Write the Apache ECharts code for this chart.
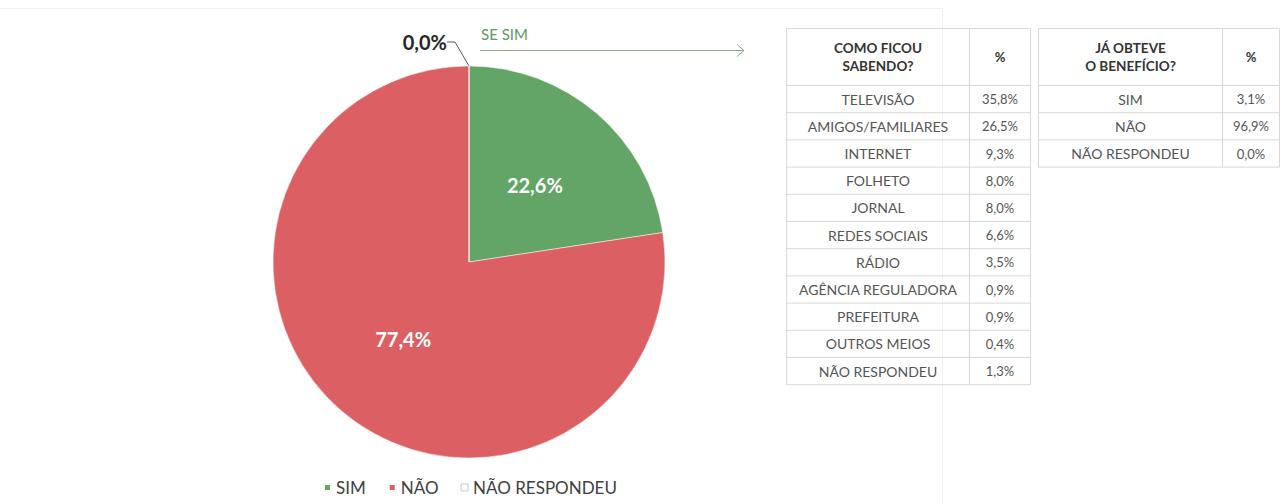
<!DOCTYPE html>
<html>
<head>
<meta charset="utf-8">
<title>Conhecimento do benefício</title>
<script src="https://cdn.jsdelivr.net/npm/echarts@6/dist/echarts.min.js"></script>
<style>
  html, body { margin: 0; padding: 0; background: #ffffff; }
  #chart { width: 1283px; height: 504px; }
</style>
</head>
<body>
<div id="chart"></div>
<script>
// Pie: knows about the benefit?
const answerNames = ['SIM', 'NÃO', 'NÃO RESPONDEU'];
const answerShares = [22.6, 77.4, 0.0];
const answerColors = ['#63a566', '#dc5f63', '#ffffff'];

// Table: how did the respondent find out (only for "SIM")
const sourceLabels = ['TELEVISÃO', 'AMIGOS/FAMILIARES', 'INTERNET', 'FOLHETO', 'JORNAL',
  'REDES SOCIAIS', 'RÁDIO', 'AGÊNCIA REGULADORA', 'PREFEITURA', 'OUTROS MEIOS', 'NÃO RESPONDEU'];
const sourceShares = [35.8, 26.5, 9.3, 8.0, 8.0, 6.6, 3.5, 0.9, 0.9, 0.4, 1.3];

// Table: has the benefit already been obtained
const benefitLabels = ['SIM', 'NÃO', 'NÃO RESPONDEU'];
const benefitShares = [3.1, 96.9, 0.0];

const FONT = 'Lato, "Open Sans", sans-serif';
const HEAD = '#333333';
const BODY = '#555555';
const GRID = '#d9d9d9';

const pct = v => v.toFixed(1).replace('.', ',') + '%';

// Builds a two-column table out of graphic lines and texts
function buildTable(x0, xDiv, x1, top, headerH, rowH, headerLines, labels, values) {
  const els = [];
  const bottom = top + headerH + rowH * labels.length;
  const line = (xa, ya, xb, yb) => els.push({
    type: 'line', silent: true,
    shape: { x1: xa, y1: ya, x2: xb, y2: yb },
    style: { stroke: GRID, lineWidth: 1 }
  });
  const txt = (x, y, t, font, color) => els.push({
    type: 'text', silent: true, x: x, y: y,
    style: { text: t, fill: color, font: font, align: 'center', verticalAlign: 'middle', lineHeight: 18 }
  });
  // outer frame and column divider
  line(x0, top, x1, top);
  line(x0, bottom, x1, bottom);
  line(x0, top, x0, bottom);
  line(x1, top, x1, bottom);
  line(xDiv, top, xDiv, bottom);
  // header
  line(x0, top + headerH, x1, top + headerH);
  txt((x0 + xDiv) / 2, top + headerH / 2, headerLines.join('\n'), 'bold 13.5px ' + FONT, HEAD);
  txt((xDiv + x1) / 2, top + headerH / 2, '%', 'bold 13px ' + FONT, HEAD);
  // body rows
  labels.forEach((lab, i) => {
    const yTop = top + headerH + rowH * i;
    if (i > 0) line(x0, yTop, x1, yTop);
    txt((x0 + xDiv) / 2, yTop + rowH / 2, lab, '14px ' + FONT, BODY);
    txt((xDiv + x1) / 2, yTop + rowH / 2, pct(values[i]), '13px ' + FONT, BODY);
  });
  return els;
}

const graphics = [
  // faint page guides
  { type: 'line', silent: true, shape: { x1: 0, y1: 8.5, x2: 942, y2: 8.5 }, style: { stroke: '#f2f2f2', lineWidth: 1 } },
  { type: 'line', silent: true, shape: { x1: 942.5, y1: 8, x2: 942.5, y2: 504 }, style: { stroke: '#f2f2f2', lineWidth: 1 } },
  // "SE SIM" pointer towards the tables
  {
    type: 'text', silent: true, x: 481, y: 34,
    style: { text: 'SE SIM', fill: '#5b9a5e', font: '15px ' + FONT, align: 'left', verticalAlign: 'middle' }
  },
  { type: 'line', silent: true, shape: { x1: 480, y1: 50.5, x2: 744, y2: 50.5 }, style: { stroke: '#8aa98b', lineWidth: 1 } },
  { type: 'polyline', silent: true, shape: { points: [[737, 44.5], [744, 50.5], [737, 56.5]] }, style: { stroke: '#8aa98b', lineWidth: 1, fill: null } }
].concat(
  buildTable(786.5, 969.5, 1030.5, 28.5, 57, 27.2, ['COMO FICOU', 'SABENDO?'], sourceLabels, sourceShares),
  buildTable(1038.5, 1222.5, 1279.5, 28.5, 57, 27.2, ['JÁ OBTEVE', 'O BENEFÍCIO?'], benefitLabels, benefitShares)
);

const chart = echarts.init(document.getElementById('chart'), null, { renderer: 'svg' });

chart.setOption({
  backgroundColor: '#ffffff',
  animation: false,
  legend: {
    bottom: 3,
    left: 318,
    icon: 'rect',
    itemWidth: 7,
    itemHeight: 7,
    itemGap: 22,
    textStyle: { color: '#404040', fontSize: 17, fontFamily: FONT },
    data: answerNames.map((n, i) => ({
      name: n,
      itemStyle: i === 2 ? { color: '#ffffff', borderColor: '#c8c8c8', borderWidth: 1 } : { color: answerColors[i] }
    }))
  },
  series: [{
    type: 'pie',
    center: [469, 262],
    radius: 196,
    startAngle: 90,
    clockwise: true,
    avoidLabelOverlap: false,
    itemStyle: { borderColor: '#ffffff', borderWidth: 0.5 },
    // the empty-answer label sits up-left of the top of the pie
    labelLayout: p => p.dataIndex === 2 ? { x: 447, y: 42, align: 'right', verticalAlign: 'middle' } : {},
    data: answerNames.map((n, i) => {
      const item = { name: n, value: answerShares[i], itemStyle: { color: answerColors[i] } };
      if (i < 2) {
        item.label = {
          position: 'inside', color: '#ffffff', fontWeight: 'bold', fontSize: 20, fontFamily: FONT,
          formatter: p => pct(p.value)
        };
      } else {
        item.label = {
          position: 'outside', color: '#262626', fontWeight: 'bold', fontSize: 20, fontFamily: FONT,
          formatter: p => pct(p.value)
        };
        item.labelLine = { show: true, length: 18, length2: 8, lineStyle: { color: '#595959', width: 1 } };
      }
      return item;
    })
  }],
  graphic: graphics
});
</script>
</body>
</html>
